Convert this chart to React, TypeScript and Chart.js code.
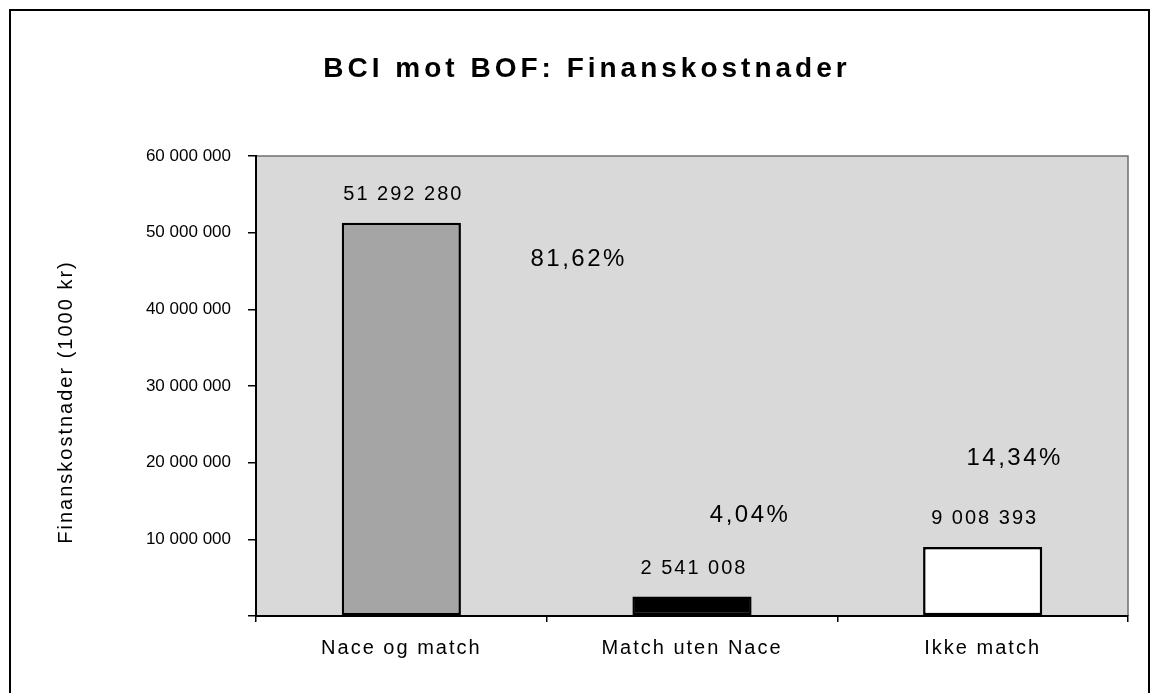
import React, { useEffect, useRef } from "react";
import { Chart, registerables } from "chart.js";

Chart.register(...registerables);

const TITLE = "BCI mot BOF: Finanskostnader";
const Y_TITLE = "Finanskostnader (1000 kr)";
const categories = ["Nace og match", "Match uten Nace", "Ikke match"];
const values = [51292280, 2541008, 9008393];
const barColors = ["#a5a5a5", "#000000", "#ffffff"];
const shareLabels = ["81,62%", "4,04%", "14,34%"];
// anchor of each share label, in data units (category index, value at text baseline)
const shareAnchorX = [0.61, 1.2, 2.11];
const shareAnchorY = [45.6e6, 12.3e6, 19.7e6];
const Y_MIN = 0;
const Y_MAX = 60000000;
const Y_STEP = 10000000;

const FAMILY = "'Liberation Sans', Arial, Helvetica, sans-serif";
const PLOT_BG = "#d9d9d9";

const fmt = (v: number) =>
  Math.round(v)
    .toString()
    .replace(/\B(?=(\d{3})+(?!\d))/g, " ");

function withSpacing(scale: any, spacing: string) {
  if (scale.__spacingPatched) return;
  scale.__spacingPatched = true;
  const orig = scale.drawLabels;
  scale.drawLabels = function (ca: any) {
    const c = this.ctx;
    const prev = c.letterSpacing;
    c.letterSpacing = spacing;
    orig.call(this, ca);
    c.letterSpacing = prev;
  };
}

const decor = {
  id: "decor",
  beforeDraw(chart: any) {
    const { ctx, chartArea: ca } = chart;
    ctx.save();
    ctx.fillStyle = "#ffffff";
    ctx.fillRect(0, 0, chart.width, chart.height);
    ctx.fillStyle = PLOT_BG;
    ctx.fillRect(ca.left, ca.top, ca.right - ca.left, ca.bottom - ca.top);
    ctx.strokeStyle = "#6f6f6f";
    ctx.lineWidth = 1.5;
    ctx.beginPath();
    ctx.moveTo(ca.left, ca.top);
    ctx.lineTo(ca.right, ca.top);
    ctx.lineTo(ca.right, ca.bottom);
    ctx.stroke();
    // title
    ctx.fillStyle = "#000";
    ctx.font = `bold 28px ${FAMILY}`;
    ctx.letterSpacing = "4px";
    ctx.textAlign = "center";
    ctx.textBaseline = "alphabetic";
    ctx.fillText(TITLE, 579, 69);
    // y axis title
    ctx.font = `20px ${FAMILY}`;
    ctx.letterSpacing = "2px";
    ctx.translate(64, 394);
    ctx.rotate(-Math.PI / 2);
    ctx.fillText(Y_TITLE, 0, 0);
    ctx.restore();
  },
  afterDatasetsDraw(chart: any) {
    const { ctx } = chart;
    const meta = chart.getDatasetMeta(0);
    const xs = chart.scales.x;
    const ys = chart.scales.y;
    ctx.save();
    ctx.fillStyle = "#000";
    ctx.textAlign = "center";
    ctx.textBaseline = "alphabetic";
    ctx.font = `20px ${FAMILY}`;
    ctx.letterSpacing = "2px";
    meta.data.forEach((bar: any, i: number) => {
      ctx.fillText(fmt(values[i]), bar.x + 2, bar.y - 23);
    });
    ctx.font = `24px ${FAMILY}`;
    ctx.letterSpacing = "2.5px";
    shareLabels.forEach((t, i) => {
      ctx.fillText(t, xs.getPixelForValue(shareAnchorX[i]), ys.getPixelForValue(shareAnchorY[i]));
    });
    ctx.restore();
  },
};

export default function App() {
  const ref = useRef<HTMLCanvasElement | null>(null);
  useEffect(() => {
    const canvas = ref.current;
    if (!canvas) return;
    const chart = new Chart(canvas, {
      type: "bar",
      data: {
        labels: categories,
        datasets: [
          {
            data: values,
            backgroundColor: barColors,
            borderColor: "#000",
            borderWidth: 2.5,
            borderSkipped: false,
            barPercentage: 0.41,
            categoryPercentage: 1,
          },
        ],
      },
      options: {
        animation: false,
        responsive: false,
        maintainAspectRatio: false,
        layout: { padding: { left: 0, right: 16, top: 148, bottom: 0 } },
        plugins: {
          legend: { display: false },
          tooltip: { enabled: false },
          title: { display: false },
        },
        scales: {
          x: {
            offset: true,
            grid: { offset: true, drawOnChartArea: false, tickLength: 6, color: "#000", lineWidth: 1.5 },
            border: { display: true, color: "#000", width: 2 },
            ticks: { font: { size: 20, family: FAMILY }, color: "#000", padding: 14, maxRotation: 0 },
            afterFit: (s: any) => {
              s.height = 69;
              withSpacing(s, "2px");
            },
          },
          y: {
            min: Y_MIN,
            max: Y_MAX,
            ticks: {
              stepSize: Y_STEP,
              callback: (v: any) => (Number(v) === 0 ? "" : fmt(Number(v))),
              font: { size: 17, family: FAMILY },
              color: "#000",
              padding: 17,
            },
            grid: { drawOnChartArea: false, tickLength: 8, color: "#000", lineWidth: 1.5 },
            border: { display: true, color: "#000", width: 2 },
            afterFit: (s: any) => {
              s.width = 248;
            },
          },
        },
      },
      plugins: [decor],
    });
    return () => chart.destroy();
  }, []);
  return (
    <div style={{ width: 1136, height: 677 }}>
      <canvas ref={ref} width={1136} height={677} style={{ display: "block" }} />
      <div
        style={{
          position: "fixed",
          left: 9,
          top: 9,
          width: 1141,
          height: 800,
          border: "2px solid #000",
          boxSizing: "border-box",
          pointerEvents: "none",
        }}
      />
    </div>
  );
}
